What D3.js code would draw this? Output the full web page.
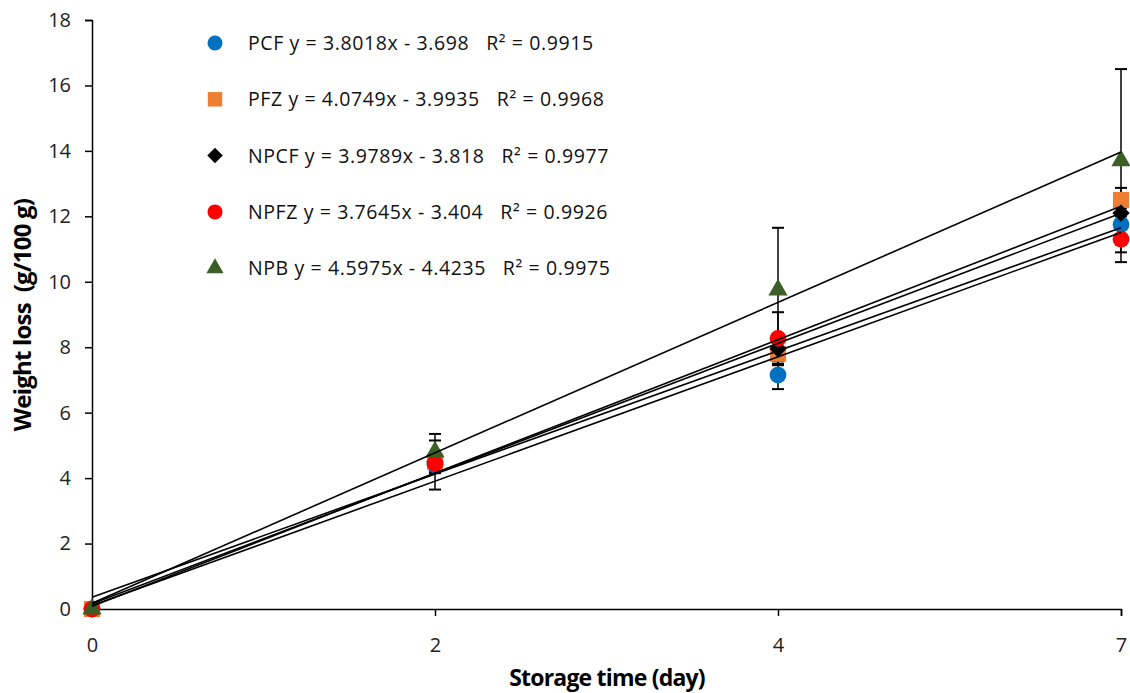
<!DOCTYPE html>
<html>
<head>
<meta charset="utf-8">
<script src="https://cdn.jsdelivr.net/npm/d3@7"></script>
<style>
  body { margin: 0; background: #fff; }
  svg { display: block; }
</style>
</head>
<body>
<div id="chart"></div>
<script>
// storage days (categories, evenly spaced)
const days = ['0', '2', '4', '7'];

// series names, mean weight loss and error (g/100 g)
const seriesNames = ['PCF', 'PFZ', 'NPCF', 'NPFZ', 'NPB'];
const pcf = [0, 4.4, 7.15, 11.75];
const pfz = [0, 4.5, 7.8, 12.5];
const npcf = [0, 4.5, 7.95, 12.1];
const npfz = [0, 4.45, 8.27, 11.3];
const npb = [0, 4.8, 9.75, 13.7];
const pcfErr = [0, 0.75, 0.43, 0.5];
const pfzErr = [0, 0.3, 0.35, 0.37];
const npcfErr = [0, 0.3, 0.45, 0.3];
const npfzErr = [0, 0.3, 0.8, 0.7];
const npbErr = [0, 0.55, 1.9, 2.8];

// linear trend lines from the chart (x = category index 1..4)
const slopes = [3.8018, 4.0749, 3.9789, 3.7645, 4.5975];
const intercepts = [-3.698, -3.9935, -3.818, -3.404, -4.4235];
const r2 = ['0.9915', '0.9968', '0.9977', '0.9926', '0.9975'];

const yTicks = [0, 2, 4, 6, 8, 10, 12, 14, 16, 18];

const width = 1130, height = 693;
const margin = { left: 92, right: 9, top: 20, bottom: 84 };

const colors = ['#0070c0', '#ed7d31', '#000000', '#ff0000', '#3b5f27'];
const shapes = [d3.symbolCircle, d3.symbolSquare, d3.symbolSquare, d3.symbolCircle, d3.symbolTriangle];
const shapeSizes = [220, 260, 150, 220, 160];
const shapeRotate = [0, 0, 45, 0, 0];

const values = [pcf, pfz, npcf, npfz, npb];
const errors = [pcfErr, pfzErr, npcfErr, npfzErr, npbErr];

const series = seriesNames.map((name, i) => ({
  name: name,
  color: colors[i],
  shape: shapes[i],
  size: shapeSizes[i],
  rot: shapeRotate[i],
  points: days.map((d, j) => ({ day: d, v: values[i][j], e: errors[i][j] })),
  slope: slopes[i],
  intercept: intercepts[i],
  r2: r2[i]
}));

const svg = d3.select('#chart').append('svg').attr('width', width).attr('height', height);

const x = d3.scalePoint().domain(days).range([margin.left, width - margin.right]);
const y = d3.scaleLinear().domain([0, 18]).range([height - margin.bottom, margin.top]);

const tickFont = '"Open Sans", "Noto Sans", sans-serif';

// y axis
const yAxis = svg.append('g')
  .attr('transform', `translate(${margin.left},0)`)
  .call(d3.axisLeft(y).tickValues(yTicks).tickSize(7).tickPadding(14));
yAxis.select('.domain').attr('stroke', '#000').attr('stroke-width', 1.5);
yAxis.selectAll('.tick line').attr('stroke', '#000').attr('stroke-width', 1.5);
yAxis.selectAll('.tick text').style('font-family', tickFont).style('font-size', '20px').attr('fill', '#222');

// x axis
const xAxis = svg.append('g')
  .attr('transform', `translate(0,${y(0)})`)
  .call(d3.axisBottom(x).tickSize(7).tickPadding(22));
xAxis.select('.domain').attr('stroke', '#000').attr('stroke-width', 1.5);
xAxis.selectAll('.tick line').attr('stroke', '#000').attr('stroke-width', 1.5);
xAxis.selectAll('.tick text').style('font-family', tickFont).style('font-size', '20px').attr('fill', '#222');

// axis titles
svg.append('text')
  .attr('x', 607)
  .attr('y', 686)
  .attr('text-anchor', 'middle')
  .style('font-family', tickFont)
  .style('font-weight', 'bold')
  .style('font-size', '23px')
  .style('letter-spacing', '-0.8px')
  .text('Storage time (day)');

svg.append('text')
  .attr('transform', `translate(31,315) rotate(-90)`)
  .attr('text-anchor', 'middle')
  .style('font-family', tickFont)
  .style('font-weight', 'bold')
  .style('font-size', '24px')
  .style('letter-spacing', '-0.8px')
  .attr('xml:space', 'preserve')
  .text('Weight loss  (g/100 g)');

// error bars
const errG = svg.append('g');
series.forEach(s => {
  s.points.filter(p => p.e > 0).forEach(p => {
    const cx = x(p.day);
    errG.append('line')
      .attr('x1', cx).attr('x2', cx)
      .attr('y1', y(p.v - p.e)).attr('y2', y(p.v + p.e))
      .attr('stroke', '#000').attr('stroke-width', 1.5);
    [p.v - p.e, p.v + p.e].forEach(v => {
      errG.append('line')
        .attr('x1', cx - 6).attr('x2', cx + 6)
        .attr('y1', y(v)).attr('y2', y(v))
        .attr('stroke', '#000').attr('stroke-width', 2);
    });
  });
});

// markers
series.forEach(s => {
  svg.append('g').selectAll('path')
    .data(s.points)
    .enter()
    .append('path')
    .attr('d', d3.symbol().type(s.shape).size(s.size))
    .attr('transform', d => `translate(${x(d.day)},${y(d.v)}) rotate(${s.rot})`)
    .attr('fill', s.color);
});

// trend lines (Excel fits against category index 1..n)
const lineG = svg.append('g');
series.forEach(s => {
  const first = days[0], last = days[days.length - 1];
  lineG.append('line')
    .attr('x1', x(first)).attr('y1', y(s.slope * 1 + s.intercept))
    .attr('x2', x(last)).attr('y2', y(s.slope * days.length + s.intercept))
    .attr('stroke', '#000').attr('stroke-width', 1.6);
});

// legend
const legend = svg.append('g');
series.forEach((s, i) => {
  const ly = 43 + i * 56.3;
  legend.append('path')
    .attr('d', d3.symbol().type(s.shape).size(s.size * 0.8))
    .attr('transform', `translate(215,${ly}) rotate(${s.rot})`)
    .attr('fill', s.color);
  const sign = s.intercept < 0 ? '-' : '+';
  legend.append('text')
    .attr('x', 248)
    .attr('y', ly + 7)
    .attr('xml:space', 'preserve')
    .style('font-family', tickFont)
    .style('font-size', '19.5px')
    .style('letter-spacing', '0.6px')
    .attr('fill', '#111')
    .text(`${s.name} y = ${s.slope}x ${sign} ${Math.abs(s.intercept)}   R² = ${s.r2}`);
});
</script>
</body>
</html>
